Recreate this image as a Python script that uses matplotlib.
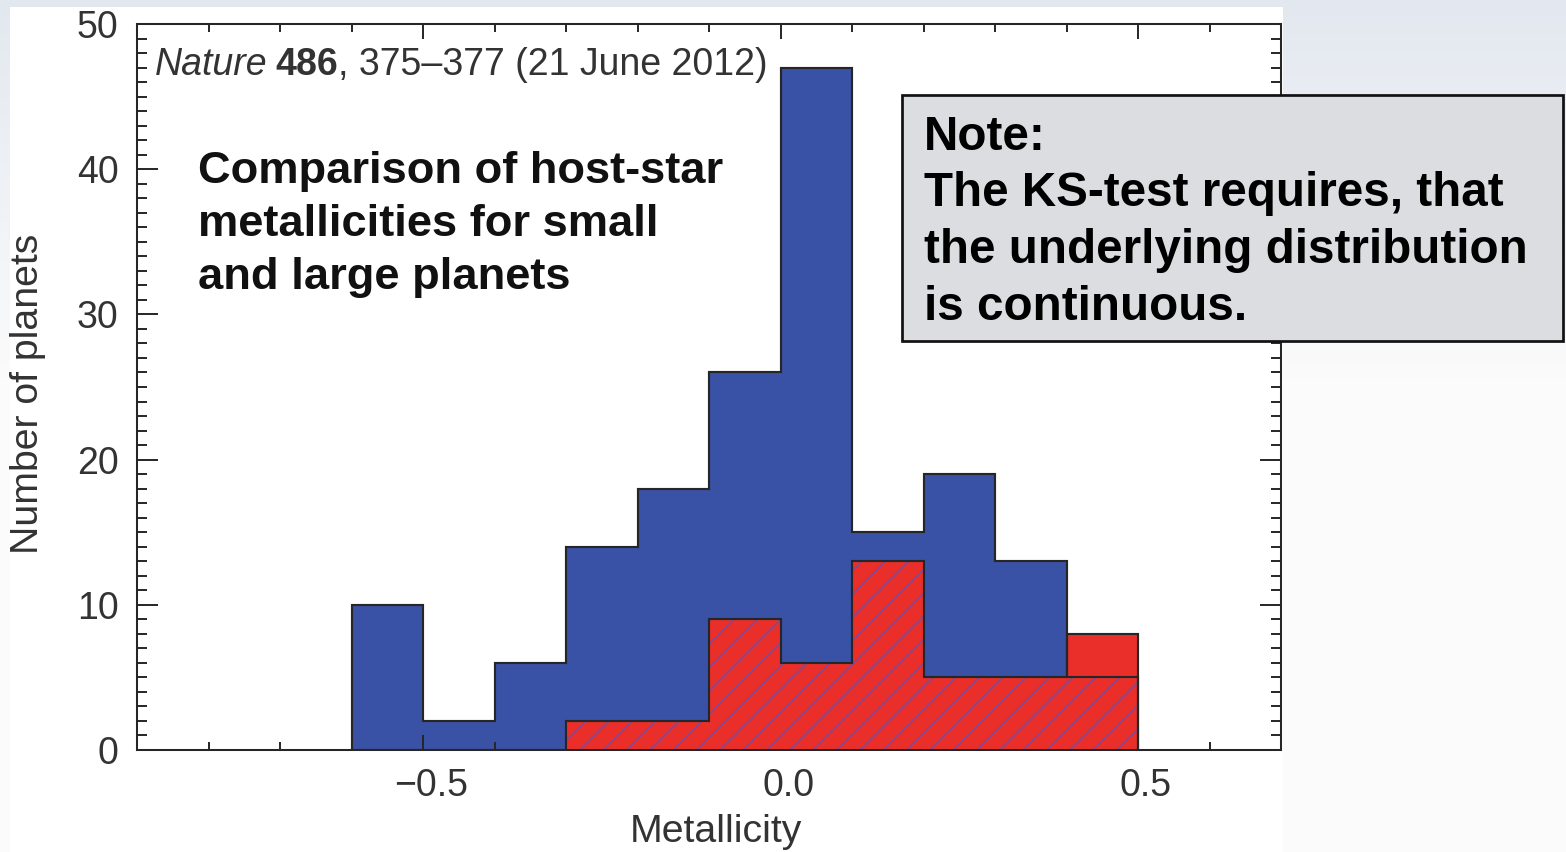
import numpy as np
import matplotlib
matplotlib.use("Agg")
import matplotlib.pyplot as plt
from matplotlib.patches import Rectangle
from matplotlib.ticker import FixedLocator, MultipleLocator
from matplotlib.transforms import ScaledTranslation

# Host-star metallicity histogram (bin edges and counts per bin)
bin_edges = [-0.6, -0.5, -0.4, -0.3, -0.2, -0.1, 0.0, 0.1, 0.2, 0.3, 0.4, 0.5]
small_planets = [10, 2, 6, 14, 18, 26, 47, 15, 19, 13, 5]
large_planets = [0, 0, 0, 2, 2, 9, 6, 13, 5, 5, 8]

x_ticks = [-0.5, 0.0, 0.5]
x_tick_labels = ["\u22120.5", "0.0", "0.5"]
y_ticks = [0, 10, 20, 30, 40, 50]
y_tick_labels = ["0", "10", "20", "30", "40", "50"]

title_lines = ["Comparison of host-star", "metallicities for small", "and large planets"]
note_lines = ["Note:", "The KS-test requires, that",
              "the underlying distribution", "is continuous."]

BLUE = "#3a52a6"
RED = "#ea2f2b"
HATCH = "#7b4a9a"
INK = "#262626"
TEXT_GREY = "#333333"

W, H, DPI = 1566, 852, 140
plt.rcParams["font.family"] = ["Liberation Sans", "DejaVu Sans"]
plt.rcParams["hatch.linewidth"] = 0.8

fig = plt.figure(figsize=(W / DPI, H / DPI), dpi=DPI)


def px_x(x):
    return x / W


def px_y(y):
    return 1 - y / H


# slide background: soft blue-grey wash fading to white
bg = fig.add_axes([0, 0, 1, 1], zorder=-10)
bg.set_axis_off()
rows = np.linspace(0, 1, 200)[:, None]
top = np.array([0.89, 0.91, 0.94])
fade = np.clip(rows / 0.45, 0, 1)
grad = top[None, None, :] * (1 - fade[..., None]) + 0.985 * fade[..., None]
grad = np.repeat(grad, 4, axis=1)
bg.imshow(grad, aspect="auto", extent=[0, 1, 0, 1], origin="upper")
bg.set_xlim(0, 1)
bg.set_ylim(0, 1)

# white panel behind the chart
fig.add_artist(Rectangle((px_x(10), 0), px_x(1283) - px_x(10), px_y(7),
                         transform=fig.transFigure, facecolor="white",
                         edgecolor="none", zorder=-5))

ax = fig.add_axes([px_x(137), px_y(750), px_x(1281) - px_x(137), px_y(24) - px_y(750)])
ax.set_facecolor("none")

counts_small = np.array(small_planets)
counts_large = np.array(large_planets)
overlap = np.minimum(counts_small, counts_large)

ax.stairs(counts_small, bin_edges, fill=True, facecolor=BLUE, edgecolor="none",
          linewidth=0, zorder=1)
ax.stairs(counts_large, bin_edges, fill=True, facecolor=RED, edgecolor="none",
          linewidth=0, zorder=2)
ax.stairs(overlap, bin_edges, fill=True, facecolor="none", edgecolor=HATCH,
          hatch="//", linewidth=0, zorder=3)
ax.stairs(counts_small, bin_edges, fill=False, baseline=0, color=INK,
          linewidth=1.1, zorder=4)
ax.stairs(counts_large, bin_edges, fill=False, baseline=0, color=INK,
          linewidth=1.1, zorder=5)

ax.set_xlim(-0.9, 0.7)
ax.set_ylim(0, 50)
ax.xaxis.set_major_locator(FixedLocator(x_ticks))
ax.set_xticklabels(x_tick_labels)
ax.xaxis.set_minor_locator(MultipleLocator(0.1))
ax.yaxis.set_major_locator(FixedLocator(y_ticks))
ax.set_yticklabels(y_tick_labels)
ax.yaxis.set_minor_locator(MultipleLocator(1))

ax.tick_params(which="both", direction="in", top=True, right=True,
               width=1.0, color=INK, labelcolor=TEXT_GREY, labelsize=19.3)
ax.tick_params(axis="y", which="major", length=11, pad=9.5)
ax.tick_params(axis="y", which="minor", length=5.2)
ax.tick_params(axis="x", which="major", length=7.5, pad=9.5)
ax.tick_params(axis="x", which="minor", length=4.2)
for sp in ax.spines.values():
    sp.set_linewidth(1.05)
    sp.set_color(INK)
    sp.set_zorder(6)

# x tick labels sit slightly right of their ticks
shift = ScaledTranslation(8 / DPI, 0, fig.dpi_scale_trans)
for lab in ax.get_xticklabels():
    lab.set_transform(lab.get_transform() + shift)

ax.set_xlabel("Metallicity", fontsize=20.2, color=TEXT_GREY)
ax.set_ylabel("Number of planets", fontsize=20.2, color=TEXT_GREY)
ax.xaxis.set_label_coords((716 - 137) / 1144, -(814 - 750) / 726)
ax.yaxis.set_label_coords((46 - 137) / 1144, 0.49)

# citation line
fig.text(px_x(155), px_y(75), "Nature", style="italic", fontsize=19.3,
         color=TEXT_GREY, ha="left", va="baseline")
cit = fig.text(px_x(155) + 130 / W, px_y(75), "", fontsize=19.3, color=TEXT_GREY,
               ha="left", va="baseline")
fig.canvas.draw()
r = fig.canvas.get_renderer()
t_nat = fig.texts[0].get_window_extent(r)
space = 8
t486 = fig.text((t_nat.x1 + space) / W, px_y(75), "486", fontweight="bold",
                fontsize=19.3, color=TEXT_GREY, ha="left", va="baseline")
b486 = t486.get_window_extent(r)
cit.set_position((b486.x1 / W, px_y(75)))
cit.set_text(", 375\u2013377 (21 June 2012)")

# heading inside the plot
for i, line in enumerate(title_lines):
    fig.text(px_x(198), px_y(183 + 53 * i), line, fontsize=23.3,
             fontweight="bold", color="#111111", ha="left", va="baseline")

# note box
fig.add_artist(Rectangle((px_x(902), px_y(341)), px_x(1563) - px_x(902),
                         px_y(95) - px_y(341), transform=fig.transFigure,
                         facecolor="#dcdde0", edgecolor="#111111",
                         linewidth=1.4, zorder=10))
for i, line in enumerate(note_lines):
    fig.text(px_x(924), px_y(150 + 56.5 * i), line, fontsize=24.5,
             fontweight="bold", color="black", ha="left", va="baseline",
             zorder=11)

fig.savefig("out.png", dpi=DPI)
